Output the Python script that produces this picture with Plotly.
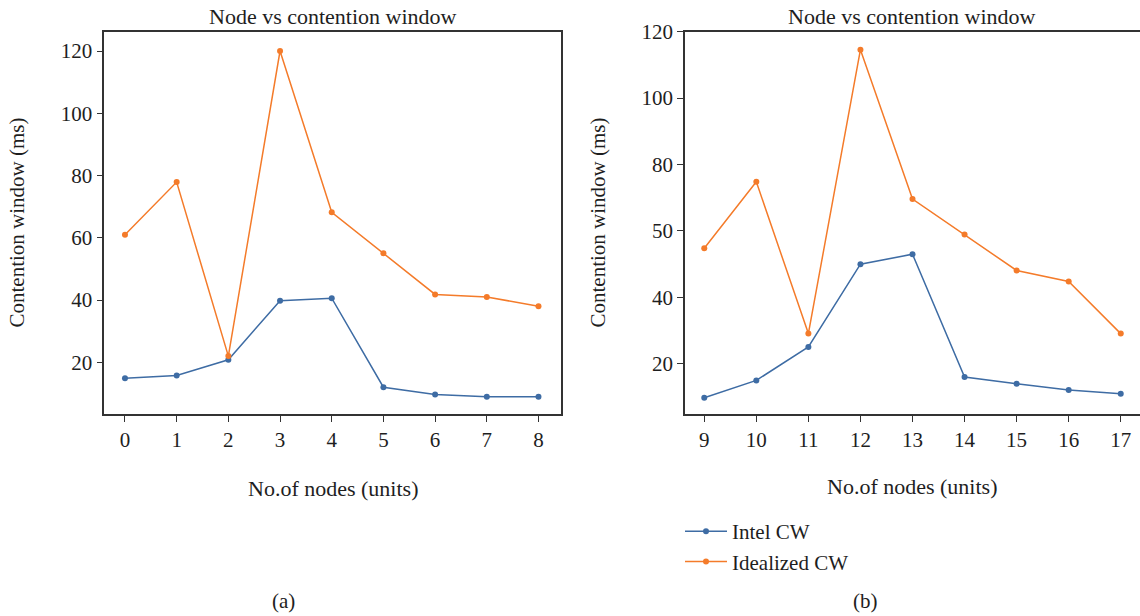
import plotly.graph_objects as go

# ---- data ----
nodes_a = [0, 1, 2, 3, 4, 5, 6, 7, 8]
intel_a = [14.9, 15.8, 20.8, 39.8, 40.6, 12.0, 9.7, 8.9, 8.9]
ideal_a = [61.0, 77.9, 22.0, 120.0, 68.2, 55.0, 41.8, 41.0, 38.0]

nodes_b = [9, 10, 11, 12, 13, 14, 15, 16, 17]
intel_b = [9.8, 15.0, 25.1, 50.0, 53.0, 16.0, 14.0, 12.1, 11.0]
ideal_b = [54.8, 74.8, 29.1, 114.6, 69.6, 58.9, 48.1, 44.8, 29.1]

yticks_a = [20, 40, 60, 80, 100, 120]
yticklabels_a = ["20", "40", "60", "80", "100", "120"]
yticks_b = [20, 40, 60, 80, 100, 120]
yticklabels_b = ["20", "40", "50", "80", "100", "120"]

series_names = ["Intel CW", "Idealized CW"]
title_text = "Node vs contention window"
xtitle = "No.of nodes (units)"
ytitle = "Contention window (ms)"

BLUE = "#3e6ca4"
ORANGE = "#f47b2a"
FONT = "Liberation Serif"
TXT = "#1e1e1e"
AX = "#333333"

W, H = 1140, 616


def px(x):
    return x / W


def py(y):
    return 1 - y / H


fig = go.Figure()

for xs, ys, name, col, xa, ya, show in [
    (nodes_a, intel_a, series_names[0], BLUE, "x", "y", True),
    (nodes_a, ideal_a, series_names[1], ORANGE, "x", "y", True),
    (nodes_b, intel_b, series_names[0], BLUE, "x2", "y2", False),
    (nodes_b, ideal_b, series_names[1], ORANGE, "x2", "y2", False),
]:
    fig.add_trace(go.Scatter(
        x=xs, y=ys, name=name, mode="lines+markers",
        line=dict(color=col, width=1.5),
        marker=dict(color=col, size=6),
        xaxis=xa, yaxis=ya, showlegend=show,
    ))

axis_common = dict(
    showgrid=False, zeroline=False, showline=True, linecolor=AX, linewidth=1.5,
    ticks="outside", ticklen=6, tickwidth=1.2, tickcolor=AX, automargin=False,
    tickfont=dict(family=FONT, size=21, color=TXT),
)

ydom = [py(414.3), py(31.7)]

fig.update_layout(
    template="none",
    width=W, height=H, autosize=False,
    margin=dict(l=0, r=0, t=0, b=0, pad=0),
    paper_bgcolor="white", plot_bgcolor="white",
    font=dict(family=FONT, color=TXT, size=21),
    xaxis=dict(domain=[px(104.3), px(560.7)], range=[-0.40, 8.43],
               tickvals=nodes_a, mirror=True, anchor="y", **axis_common),
    yaxis=dict(domain=ydom, range=[3.3, 126.2], tickvals=yticks_a,
               ticktext=yticklabels_a, mirror=True, anchor="x", **axis_common),
    xaxis2=dict(domain=[px(685), 1.0], range=[8.63, 17.37],
                tickvals=nodes_b, mirror=True, anchor="y2", **axis_common),
    yaxis2=dict(domain=ydom, range=[4.8, 120.0], tickvals=yticks_b,
                ticktext=yticklabels_b, mirror=False, anchor="x2", **axis_common),
    legend=dict(x=px(680), y=py(511), xanchor="left", yanchor="top",
                font=dict(family=FONT, size=21, color=TXT), itemwidth=42,
                bgcolor="rgba(0,0,0,0)", borderwidth=0, tracegroupgap=3),
    showlegend=True,
)

annots = [
    (332.5, 16, title_text, 0, 22),
    (912, 16, title_text, 0, 22),
    (332.5, 489, xtitle, 0, 22),
    (912, 486, xtitle, 0, 22),
    (16.5, 223, ytitle, -90, 21),
    (597.5, 223, ytitle, -90, 21),
    (283, 601, "(a)", 0, 21),
    (865, 601, "(b)", 0, 21),
]
for x, y, t, ang, fs in annots:
    fig.add_annotation(
        x=px(x), y=py(y), xref="paper", yref="paper", text=t,
        showarrow=False, textangle=ang, xanchor="center", yanchor="middle",
        font=dict(family=FONT, size=fs, color=TXT),
    )

fig.write_html(
    "out.html",
    config={"displayModeBar": False},
    post_script="document.body.style.margin='0';document.body.style.overflow='hidden';",
)
